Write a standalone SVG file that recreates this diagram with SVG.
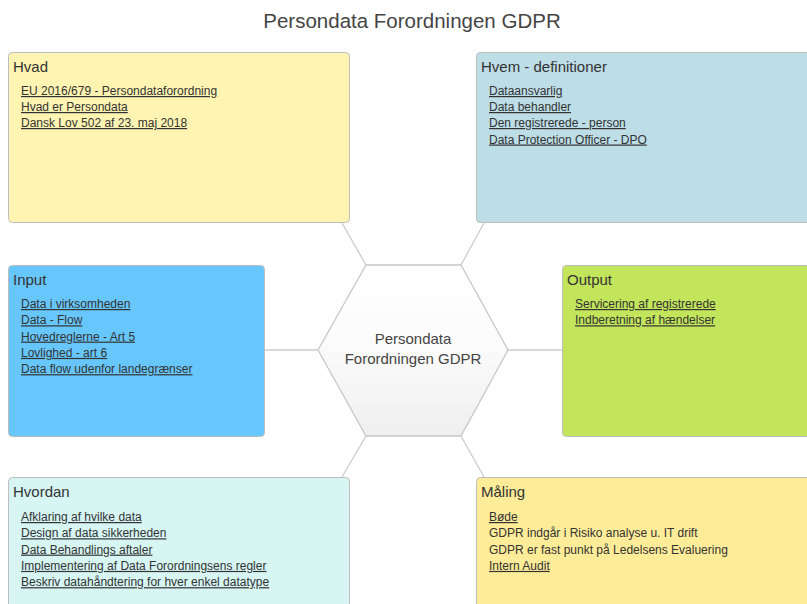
<svg xmlns="http://www.w3.org/2000/svg" width="807" height="604" viewBox="0 0 807 604">
  <defs>
    <linearGradient id="hexFill" x1="0" y1="0" x2="0" y2="1">
      <stop offset="0" stop-color="#ffffff"/>
      <stop offset="0.45" stop-color="#fbfbfb"/>
      <stop offset="1" stop-color="#efefef"/>
    </linearGradient>
    <style>
      text { font-family: "Liberation Sans", Arial, sans-serif; fill: #333333; }
      .title { font-size: 20.5px; fill: #444444; }
      .head { font-size: 15px; }
      .item { font-size: 12px; }
      .link { text-decoration: underline; }
      .box { stroke: #bdbdbd; stroke-width: 1; }
      .conn { stroke: #cccccc; stroke-width: 1.3; fill: none; }
      .hub-label { font-size: 15px; fill: #444444; text-anchor: middle; }
    </style>
  </defs>

  <rect x="0" y="0" width="807" height="604" fill="#ffffff"/>

  <text class="title" x="412" y="28" text-anchor="middle">Persondata Forordningen GDPR</text>

  <!-- connectors between the hub and the six boxes -->
  <g id="connectors">
    <line class="conn" x1="366" y1="265" x2="342" y2="223"/>
    <line class="conn" x1="461" y1="265" x2="484" y2="223"/>
    <line class="conn" x1="318" y1="350" x2="264" y2="350"/>
    <line class="conn" x1="508" y1="350" x2="562" y2="350"/>
    <line class="conn" x1="366" y1="436" x2="342" y2="477"/>
    <line class="conn" x1="461" y1="436" x2="484" y2="477"/>
  </g>

  <!-- central hexagon -->
  <g id="hub">
    <polygon points="366,265 461,265 508,350 461,436 366,436 318,350" fill="url(#hexFill)" stroke="#c8c8c8" stroke-width="1.3"/>
    <text class="hub-label" x="413" y="344">Persondata</text>
    <text class="hub-label" x="413" y="364">Forordningen GDPR</text>
  </g>

  <g id="hvad">
    <rect class="box" x="8.5" y="52.5" width="341" height="170" rx="4" fill="#fff4b2"/>
    <text class="head" x="13" y="71.5">Hvad</text>
    <text class="item link" x="21" y="95">EU 2016/679 - Persondataforordning</text>
    <text class="item link" x="21" y="111">Hvad er Persondata</text>
    <text class="item link" x="21" y="127">Dansk Lov 502 af 23. maj 2018</text>
  </g>

  <g id="hvem">
    <rect class="box" x="476.5" y="52.5" width="341" height="170" rx="4" fill="#bddde7"/>
    <text class="head" x="481" y="71.5">Hvem - definitioner</text>
    <text class="item link" x="489" y="95">Dataansvarlig</text>
    <text class="item link" x="489" y="111">Data behandler</text>
    <text class="item link" x="489" y="127">Den registrerede - person</text>
    <text class="item link" x="489" y="143.5">Data Protection Officer - DPO</text>
  </g>

  <g id="input">
    <rect class="box" x="8.5" y="265.5" width="256" height="171" rx="4" fill="#67c7fd"/>
    <text class="head" x="13" y="284.5">Input</text>
    <text class="item link" x="21" y="308">Data i virksomheden</text>
    <text class="item link" x="21" y="324.3">Data - Flow</text>
    <text class="item link" x="21" y="340.6">Hovedreglerne - Art 5</text>
    <text class="item link" x="21" y="356.9">Lovlighed - art 6</text>
    <text class="item link" x="21" y="373.2">Data flow udenfor landegrænser</text>
  </g>

  <g id="output">
    <rect class="box" x="562.5" y="265.5" width="256" height="171" rx="4" fill="#c2e55b"/>
    <text class="head" x="567" y="284.5">Output</text>
    <text class="item link" x="575" y="308">Servicering af registrerede</text>
    <text class="item link" x="575" y="324.3">Indberetning af hændelser</text>
  </g>

  <g id="hvordan">
    <rect class="box" x="8.5" y="477.5" width="341" height="170" rx="4" fill="#d6f5f3"/>
    <text class="head" x="13" y="496.5">Hvordan</text>
    <text class="item link" x="21" y="521">Afklaring af hvilke data</text>
    <text class="item link" x="21" y="537.3">Design af data sikkerheden</text>
    <text class="item link" x="21" y="553.6">Data Behandlings aftaler</text>
    <text class="item link" x="21" y="569.9">Implementering af Data Forordningsens regler</text>
    <text class="item link" x="21" y="586.2">Beskriv datahåndtering for hver enkel datatype</text>
  </g>

  <g id="maaling">
    <rect class="box" x="476.5" y="477.5" width="341" height="170" rx="4" fill="#ffec98"/>
    <text class="head" x="481" y="496.5">Måling</text>
    <text class="item link" x="489" y="521">Bøde</text>
    <text class="item" x="489" y="537.3">GDPR indgår i Risiko analyse u. IT drift</text>
    <text class="item" x="489" y="553.6">GDPR er fast punkt på Ledelsens Evaluering</text>
    <text class="item link" x="489" y="569.9">Intern Audit</text>
  </g>
</svg>
